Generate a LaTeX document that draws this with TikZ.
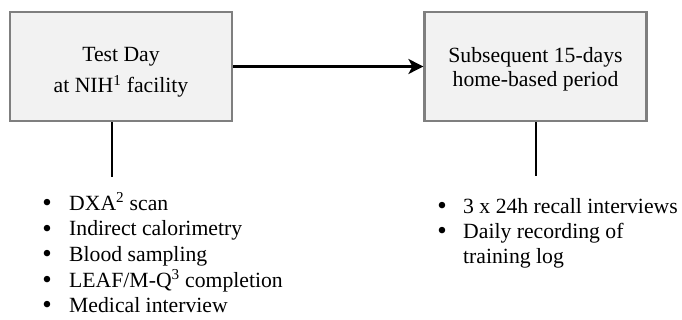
\documentclass[tikz,border=0pt]{standalone}
\usepackage{fontspec}
\setmainfont{Liberation Serif}
\usetikzlibrary{arrows.meta,calc}
\definecolor{boxfill}{HTML}{F2F2F2}
\definecolor{boxline}{HTML}{7F7F7F}
\tikzset{
  stagebox/.style={draw=boxline, line width=2.2pt, fill=boxfill, minimum width=222pt, minimum height=109pt, inner sep=0pt},
  boxtext/.style={font=\fontsize{21.7}{24}\selectfont, anchor=base, inner sep=0pt},
  bul/.style={font=\fontsize{27}{24}\selectfont, anchor=base, inner sep=0pt},
  item/.style={font=\fontsize{21.7}{24}\selectfont, anchor=base west, inner sep=0pt},
  conn/.style={draw=black, line width=2.2pt},
}
\newcommand{\sups}[1]{\textsuperscript{#1}}
\begin{document}
\begin{tikzpicture}[x=1pt,y=-1pt]
\useasboundingbox[fill=white] (0,0) rectangle (682,320);
% boxes
\node[stagebox] (A) at (121,66.5) {};
\node[stagebox] (B) at (535.5,66.5) {};
\node[boxtext] (A1) at (121,61.7) {Test Day};
\node[boxtext] (A2) at (121,92.7) {at NIH\sups{1} facility};
\node[boxtext] (B1) at (535.5,63) {Subsequent 15-days};
\node[boxtext] (B2) at (535.5,87) {home-based period};
% connectors
\draw[conn, -{Stealth[length=15pt,width=15pt,inset=4pt]}] (A.east) -- (B.west);
\coordinate (la) at (112,177);
\coordinate (lb) at (536,176);
\draw[conn] (A.south -| la) -- (la);
\draw[conn] (B.south -| lb) -- (lb);
% left list
\foreach \y/\n in {211.5/1,237/2,262.5/3,288/4,313.5/5}
  \node[bul] (lb\n) at (47,\y) {\textbullet};
\node[item] (li1) at (69,210.5) {DXA\sups{2} scan};
\node[item] (li2) at (69,236) {Indirect calorimetry};
\node[item] (li3) at (69,261.5) {Blood sampling};
\node[item] (li4) at (69,287) {LEAF/M-Q\sups{3} completion};
\node[item] (li5) at (69,312.5) {Medical interview};
% right list
\node[bul] (rb1) at (442,215) {\textbullet};
\node[bul] (rb2) at (442,239.5) {\textbullet};
\node[item] (ri1) at (463,214) {3 x 24h recall interviews};
\node[item] (ri2) at (463,238.5) {Daily recording of};
\node[item] (ri3) at (463,263) {training log};
\end{tikzpicture}
\end{document}
